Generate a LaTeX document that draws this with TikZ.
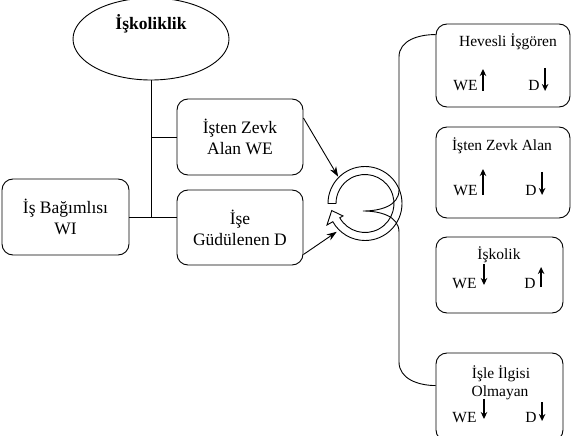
\documentclass[tikz,border=0pt]{standalone}
\usepackage{fontspec}
\setmainfont{Liberation Serif}
\usetikzlibrary{shapes.geometric,calc,arrows.meta}

\tikzset{
  box/.style={draw, rounded corners=11pt, align=center, inner sep=0pt},
  bigtxt/.style={font=\fontsize{17.5}{21}\selectfont},
  smalltxt/.style={font=\fontsize{15.5}{17}\selectfont, inner sep=0pt},
  trend/.style={line width=1.6pt, -{Stealth[length=7pt,width=6.5pt]}},
}

\begin{document}
\begin{tikzpicture}[x=1pt,y=1pt,line width=0.9pt,>={Stealth[length=10pt,width=7pt]}]
\useasboundingbox (0,0) rectangle (574,-436);
% left part
\node (isk) at (151,-39) [draw,ellipse,minimum width=156pt,minimum height=82pt] {};
\node (isklbl) at (151,-24) [font=\fontsize{17.5}{21}\selectfont\bfseries] {İşkoliklik};
\node (bag)  at (65.5,-217)  [box,bigtxt,minimum width=127pt,minimum height=76pt] {İş Bağımlısı\\WI};
\node (zevk) at (240,-137)   [box,bigtxt,minimum width=126pt,minimum height=76pt] {İşten Zevk\\Alan WE};
\node (gud)  at (240,-227.5) [box,bigtxt,minimum width=126pt,minimum height=75pt] {İşe\\Güdülenen D};
\draw (isk.south) -- (isk.south |- bag.east);
\draw (isk.south |- zevk.west) -- (zevk.west);
\draw (bag.east) -- (bag.east -| gud.west);

% right part
\node (hev)   at (503,-65.5)  [box,minimum width=134pt,minimum height=83pt] {};
\node (zevk2) at (503,-172.5) [box,minimum width=134pt,minimum height=91pt] {};
\node (iskol) at (499.5,-275) [box,minimum width=127pt,minimum height=76pt] {};
\node (ilgi)  at (499.5,-397) [box,minimum width=127pt,minimum height=88pt] {};

\node (hevT)  at (508,-47)  [smalltxt,anchor=base] {Hevesli İşgören};
\node (hevWE) at (453,-91)  [smalltxt,anchor=base west] {WE};
\node (hevD)  at (528,-91)  [smalltxt,anchor=base west] {D};
\draw [trend] ([xshift=5pt]hevWE.base east) -- ++(0,22);
\draw [trend] ([xshift=5pt,yshift=23pt]hevD.base east) -- ++(0,-23);

\node (zevT)  at (502,-151) [smalltxt,anchor=base] {İşten Zevk Alan};
\node (zevWE) at (453,-195) [smalltxt,anchor=base west] {WE};
\node (zevD)  at (525,-195) [smalltxt,anchor=base west] {D};
\draw [trend] ([xshift=5pt]zevWE.base east) -- ++(0,26);
\draw [trend] ([xshift=5pt,yshift=23pt]zevD.base east) -- ++(0,-23);

\node (iskT)  at (499,-259) [smalltxt,anchor=base] {İşkolik};
\node (iskWE) at (452,-288) [smalltxt,anchor=base west] {WE};
\node (iskD)  at (524,-288) [smalltxt,anchor=base west] {D};
\draw [trend] ([xshift=7pt,yshift=24pt]iskWE.base east) -- ++(0,-21);
\draw [trend] ([xshift=5pt,yshift=1pt]iskD.base east) -- ++(0,20);

\node (ilgT)  at (501,-378) [smalltxt,anchor=base] {İşle İlgisi};
\node (ilgT2) at (500,-396) [smalltxt,anchor=base] {Olmayan};
\node (ilgWE) at (452,-422) [smalltxt,anchor=base west] {WE};
\node (ilgD)  at (525,-422) [smalltxt,anchor=base west] {D};
\draw [trend] ([xshift=7pt,yshift=23pt]ilgWE.base east) -- ++(0,-20);
\draw [trend] ([xshift=5pt,yshift=20pt]ilgD.base east) -- ++(0,-19);

% cycle arrow
\coordinate (cyc) at (365,-203.5);
\draw [fill=white] ($(cyc)+(180:37pt)$) arc[start angle=180,end angle=-150.5,radius=37pt]
  -- ($(cyc)+(209.5:43.7pt)$) -- ($(cyc)+(192:34pt)$) -- ($(cyc)+(209.5:25.3pt)$)
  -- ($(cyc)+(209.5:29pt)$) arc[start angle=-150.5,end angle=180,radius=29pt] -- cycle;
\coordinate (cin1) at ($(cyc)+(135:38pt)$);
\coordinate (cin2) at ($(cyc)+(225:40pt)$);
\draw [->] ([yshift=19pt]zevk.east) -- (cin1);
\draw [->] ([yshift=-27pt]gud.east) -- (cin2);

% brace
\coordinate (btop) at ([yshift=-11pt]hev.north west);
\coordinate (bbot) at ([yshift=-33pt]ilgi.north west);
\coordinate (btip) at (363,-211);
\draw (btop) to[out=180,in=90] (399,-57) -- (399,-190) to[out=-90,in=0] (btip)
  to[out=0,in=90] (399,-232) -- (399,-362) to[out=-90,in=180] (bbot);
\end{tikzpicture}
\end{document}
